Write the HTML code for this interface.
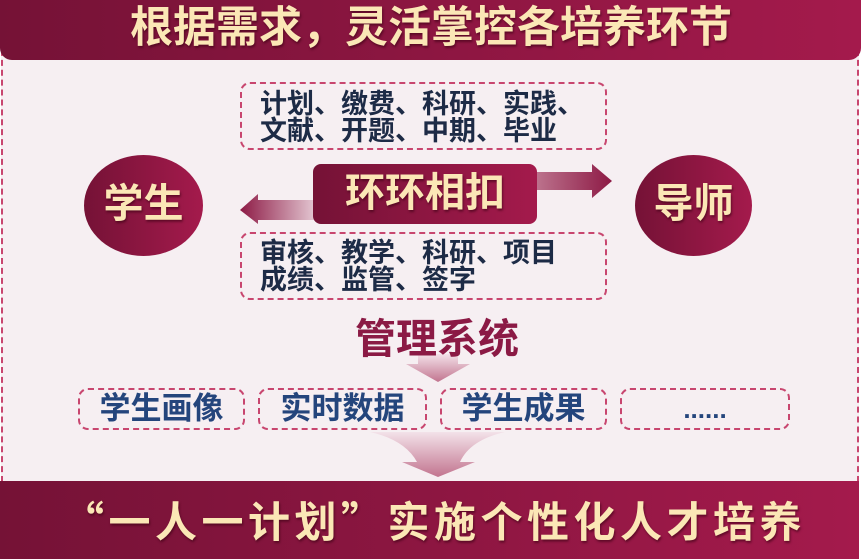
<!DOCTYPE html>
<html><head><meta charset="utf-8"><style>
*{margin:0;padding:0;box-sizing:border-box}
body{width:862px;height:559px;background:#fff;position:relative;overflow:hidden;font-family:"Liberation Sans","Noto Sans CJK SC",sans-serif;font-weight:bold}
.abs{position:absolute;white-space:nowrap}
.gold{color:#fbe7b6;text-shadow:1px 2px 2px rgba(60,0,20,.6)}
.red{background:linear-gradient(90deg,#751236,#a41a4c)}
.dash{border:2px dashed #c8466f;border-radius:10px}
.navy{color:#1d2b46}
.blue{color:#24457c}
</style></head><body>
<div class="abs" style="left:1px;top:40px;width:858px;height:442px;background:#f6eff2;border-left:2px dashed #c8466f;border-right:2px dashed #c8466f"></div>
<div class="abs red" style="left:0;top:0;width:861px;height:60px;border-radius:0 0 12px 12px"></div>
<div class="abs gold" style="left:0;top:2px;width:862px;text-align:center;font-size:43px;line-height:52px">根据需求，灵活掌控各培养环节</div>

<div class="abs dash" style="left:240px;top:82px;width:367px;height:68px"></div>
<div class="abs navy" style="left:260px;top:91px;font-size:27px;line-height:27px">计划、缴费、科研、实践、<br>文献、开题、中期、毕业</div>

<div class="abs red" style="left:84px;top:155px;width:119px;height:101px;border-radius:50%"></div>
<div class="abs gold" style="left:84px;top:179px;width:119px;text-align:center;font-size:40px;line-height:50px">学生</div>
<div class="abs red" style="left:635px;top:155px;width:117px;height:101px;border-radius:50%"></div>
<div class="abs gold" style="left:635px;top:179px;width:117px;text-align:center;font-size:40px;line-height:50px">导师</div>

<svg class="abs" style="left:0;top:0" width="862" height="559">
<defs>
<linearGradient id="ga" x1="0" x2="1"><stop offset="0" stop-color="#c07a93"/><stop offset="1" stop-color="#8d1a45"/></linearGradient>
<linearGradient id="gb" x1="0" x2="1"><stop offset="0" stop-color="#8d1a45"/><stop offset="1" stop-color="#e9d2db"/></linearGradient>
<linearGradient id="gd" x1="0" x2="0" y1="0" y2="1"><stop offset="0" stop-color="#f3e2e9"/><stop offset="1" stop-color="#c2748f"/></linearGradient>
</defs>
<polygon points="530,172 592,172 592,164 612,181 592,198 592,190 530,190" fill="url(#ga)"/>
<polygon points="320,200 258,200 258,194 240,210 258,224 258,220 320,220" fill="url(#gb)"/>
<polygon points="418,354 458,354 458,364 470,364 438,382 406,364 418,364" fill="url(#gd)"/>
<path d="M370,432 L505,432 Q470,440 460,462 L475,462 L438,477 L402,462 L417,462 Q405,440 370,432 Z" fill="url(#gd)"/>
</svg>

<div class="abs red" style="left:313px;top:164px;width:224px;height:60px;border-radius:8px"></div>
<div class="abs gold" style="left:313px;top:168px;width:224px;text-align:center;font-size:40px;line-height:50px">环环相扣</div>

<div class="abs dash" style="left:240px;top:232px;width:367px;height:68px"></div>
<div class="abs navy" style="left:260px;top:240px;font-size:27px;line-height:27px">审核、教学、科研、项目<br>成绩、监管、签字</div>

<div class="abs" style="left:0;top:314px;width:874px;text-align:center;font-size:41px;line-height:50px;color:#8b1a45">管理系统</div>

<div class="abs dash" style="left:78px;top:388px;width:167px;height:42px"></div>
<div class="abs dash" style="left:258px;top:388px;width:169px;height:42px"></div>
<div class="abs dash" style="left:440px;top:388px;width:167px;height:42px"></div>
<div class="abs dash" style="left:620px;top:388px;width:170px;height:42px"></div>
<div class="abs blue" style="left:78px;top:390px;width:167px;text-align:center;font-size:31px;line-height:38px">学生画像</div>
<div class="abs blue" style="left:258px;top:390px;width:169px;text-align:center;font-size:31px;line-height:38px">实时数据</div>
<div class="abs blue" style="left:440px;top:390px;width:167px;text-align:center;font-size:31px;line-height:38px">学生成果</div>
<div class="abs blue" style="left:620px;top:390px;width:170px;text-align:center;font-size:26px;line-height:38px">......</div>

<div class="abs red" style="left:0;top:481px;width:859px;height:78px"></div>
<div class="abs gold" style="left:62px;top:494px;font-family:'Noto Sans CJK SC',sans-serif;font-size:42px;letter-spacing:4.5px;line-height:52px">“一人一计划”实施个性化人才培养</div>
</body></html>
